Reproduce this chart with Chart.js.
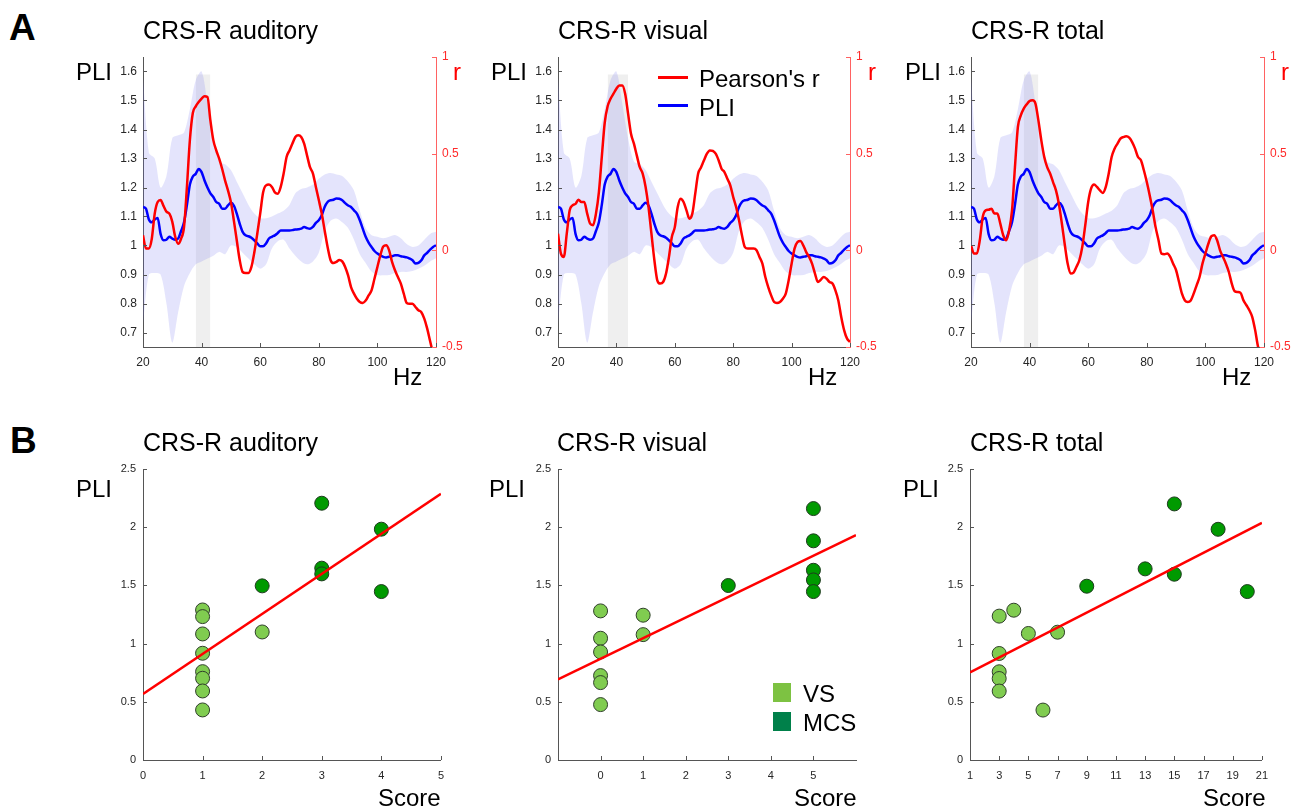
<!DOCTYPE html>
<html>
<head>
<meta charset="utf-8">
<script src="https://cdn.jsdelivr.net/npm/chart.js@4.4.1/dist/chart.umd.min.js"></script>
<style>
  body { margin: 0; background: #fff; }
  #fig { position: relative; width: 1299px; height: 810px; overflow: hidden; background: #fff;
         font-family: 'Liberation Sans', Arial, sans-serif; }
  #fig canvas { position: absolute; }
  .t { position: absolute; white-space: nowrap; color: #000; line-height: 1; }
</style>
</head>
<body>
<div id="fig"></div>
<script>
// ---- data: panel A (PLI spectrum and correlation with CRS-R) ----
const titles = ['CRS-R auditory', 'CRS-R visual', 'CRS-R total'];

const hz = [20,21,22,23,24,25,26,27,28,29,30,31,32,33,34,35,36,37,38,39,40,41,42,43,44,45,46,47,48,49,
  50,51,52,53,54,55,56,57,58,59,60,61,62,63,64,65,66,67,68,69,70,71,72,73,74,75,76,77,78,79,
  80,81,82,83,84,85,86,87,88,89,90,91,92,93,94,95,96,97,98,99,100,101,102,103,104,105,106,107,108,109,
  110,111,112,113,114,115,116,117,118,119,120];

const pliMean = [1.133,1.127,1.09,1.08,1.09,1.095,1.04,1.018,1.02,1.03,1.024,1.02,1.024,1.05,1.08,1.14,1.21,1.238,1.247,1.264,
  1.253,1.224,1.2,1.18,1.167,1.15,1.144,1.127,1.127,1.138,1.147,1.138,1.11,1.075,1.047,1.035,1.032,1.027,1.018,1.007,
  0.997,0.997,1.007,1.024,1.03,1.035,1.043,1.052,1.052,1.052,1.052,1.053,1.055,1.056,1.058,1.064,1.06,1.058,1.064,1.078,
  1.087,1.104,1.133,1.15,1.156,1.158,1.162,1.161,1.156,1.146,1.138,1.133,1.121,1.11,1.087,1.058,1.03,1.01,0.995,0.981,
  0.972,0.966,0.961,0.959,0.961,0.963,0.966,0.966,0.963,0.961,0.959,0.955,0.949,0.938,0.94,0.949,0.966,0.975,0.986,0.995,1.001];

const hzBand = [20,22,24,26,28,30,32,34,36,38,40,42,44,46,48,50,52,54,56,58,60,62,64,66,68,70,
  72,74,76,78,80,82,84,86,88,90,92,94,96,98,100,102,104,106,108,110,112,114,116,118,120];
const pliUpper = [1.58,1.32,1.30,1.20,1.24,1.37,1.38,1.39,1.47,1.57,1.60,1.49,1.37,1.29,1.28,1.26,1.22,1.18,1.14,1.11,
  1.094,1.094,1.10,1.11,1.12,1.14,1.18,1.195,1.20,1.21,1.23,1.245,1.25,1.245,1.24,1.22,1.19,1.12,1.06,1.035,
  1.03,1.025,1.03,1.036,1.025,1.005,0.995,1.0,1.02,1.04,1.047];
const pliLower = [0.73,0.90,0.905,0.90,0.80,0.665,0.77,0.86,0.905,0.935,0.945,0.955,0.965,0.978,0.97,1.0,0.995,0.975,0.955,0.935,
  0.92,0.935,0.99,1.015,1.02,0.99,0.965,0.945,0.935,0.945,0.975,1.05,1.085,1.093,1.08,1.06,1.02,0.97,0.94,0.91,
  0.898,0.897,0.898,0.905,0.909,0.909,0.912,0.92,0.93,0.945,0.956];

const rAud = [0.078,0.01,0.01,0.06,0.19,0.25,0.26,0.23,0.20,0.19,0.147,0.07,0.034,0.06,0.12,0.33,0.57,0.71,0.745,0.767,
  0.785,0.797,0.793,0.672,0.57,0.517,0.474,0.422,0.362,0.31,0.25,0.155,0.052,-0.05,-0.112,-0.117,-0.117,-0.086,-0.01,0.086,
  0.19,0.30,0.336,0.34,0.328,0.30,0.293,0.328,0.397,0.483,0.517,0.552,0.586,0.595,0.586,0.552,0.49,0.43,0.397,0.328,
  0.26,0.19,0.103,0.017,-0.05,-0.066,-0.06,-0.05,-0.057,-0.086,-0.13,-0.19,-0.224,-0.25,-0.267,-0.272,-0.26,-0.233,-0.207,-0.147,
  -0.086,-0.026,0.02,0.026,0,-0.06,-0.103,-0.138,-0.172,-0.224,-0.272,-0.276,-0.276,-0.293,-0.31,-0.32,-0.353,-0.405,-0.47,-0.535,-0.6];
const rVis = [0.086,-0.017,-0.034,0.086,0.207,0.233,0.24,0.262,0.25,0.25,0.19,0.138,0.13,0.19,0.3,0.483,0.66,0.745,0.784,0.81,
  0.836,0.853,0.853,0.81,0.707,0.603,0.552,0.49,0.43,0.397,0.328,0.224,0.086,-0.05,-0.155,-0.172,-0.164,-0.12,-0.034,0.07,
  0.12,0.224,0.267,0.25,0.207,0.164,0.19,0.293,0.397,0.43,0.466,0.5,0.517,0.514,0.5,0.466,0.422,0.405,0.37,0.336,
  0.276,0.224,0.155,0.078,0.017,0.009,0.009,0.009,0,-0.034,-0.069,-0.138,-0.19,-0.233,-0.267,-0.272,-0.267,-0.25,-0.224,-0.155,
  -0.069,0.009,0.043,0.048,0.026,-0.009,-0.034,-0.069,-0.12,-0.164,-0.152,-0.138,-0.147,-0.164,-0.172,-0.207,-0.259,-0.345,-0.414,-0.457,-0.474];
const rTot = [0.026,-0.017,-0.017,0.052,0.172,0.207,0.21,0.215,0.19,0.19,0.138,0.078,0.052,0.103,0.207,0.43,0.638,0.698,0.733,0.755,
  0.772,0.776,0.759,0.672,0.569,0.483,0.43,0.397,0.353,0.31,0.24,0.14,0.03,-0.07,-0.12,-0.115,-0.085,-0.05,0.02,0.13,
  0.25,0.32,0.34,0.328,0.31,0.297,0.328,0.397,0.483,0.526,0.552,0.578,0.586,0.59,0.583,0.56,0.526,0.483,0.466,0.414,
  0.353,0.284,0.207,0.12,0.052,-0.017,-0.02,-0.017,-0.034,-0.069,-0.103,-0.164,-0.224,-0.259,-0.267,-0.259,-0.224,-0.181,-0.138,-0.069,
  -0.017,0.034,0.072,0.078,0.052,0,-0.034,-0.069,-0.112,-0.172,-0.212,-0.216,-0.22,-0.259,-0.284,-0.31,-0.345,-0.414,-0.5,-0.53,-0.6];

// shaded frequency window (Hz) for each panel, and its top
const winAud = [38, 43];
const winVis = [37, 44];
const winTot = [38, 43];
const winTop = 1.59;

const hzTicks = [20, 40, 60, 80, 100, 120];
const pliTicks = [0.7, 0.8, 0.9, 1, 1.1, 1.2, 1.3, 1.4, 1.5, 1.6];
const rTicks = [-0.5, 0, 0.5, 1];

// ---- data: panel B (PLI vs. CRS-R score) ----
const audVsX = [1, 1, 1, 1, 1, 1, 1, 1, 2];
const audVsY = [1.289, 1.232, 1.083, 0.917, 0.759, 0.702, 0.593, 0.43, 1.10];
const audMcsX = [2, 3, 3, 3, 4, 4];
const audMcsY = [1.496, 2.206, 1.648, 1.599, 1.983, 1.447];
const audFitX = [0, 5];
const audFitY = [0.567, 2.287];

const visVsX = [0, 0, 0, 0, 0, 0, 1, 1];
const visVsY = [1.281, 1.046, 0.928, 0.725, 0.665, 0.476, 1.244, 1.077];
const visMcsX = [3, 5, 5, 5, 5, 5];
const visMcsY = [1.499, 2.16, 1.883, 1.63, 1.547, 1.447];
const visFitX = [-1, 6];
const visFitY = [0.693, 1.931];

const totVsX = [3, 3, 3, 3, 3, 4, 5, 6, 7];
const totVsY = [1.236, 0.915, 0.758, 0.70, 0.592, 1.287, 1.087, 0.429, 1.098];
const totMcsX = [9, 13, 15, 15, 18, 20];
const totMcsY = [1.493, 1.642, 2.2, 1.596, 1.982, 1.447];
const totFitX = [1, 21];
const totFitY = [0.752, 2.037];

const pliTicksB = [0, 0.5, 1, 1.5, 2, 2.5];
const audTicks = [0, 1, 2, 3, 4, 5];
const visTicks = [0, 1, 2, 3, 4, 5];
const totTicks = [1, 3, 5, 7, 9, 11, 13, 15, 17, 19, 21];

// ---- layout ----
const fig = document.getElementById('fig');
Chart.defaults.font.family = "'Liberation Sans', Arial, sans-serif";

const VS_COL = '#80cc50', MCS_COL = '#009a00';
const AXIS_COL = '#555555', TICK_COL = '#262626';

const pts = (xs, ys) => xs.map((x, i) => ({ x: x, y: ys[i] }));
const fmt = v => String(+(+v).toFixed(2));
const setTicks = arr => s => { s.ticks = arr.map(v => ({ value: v })); };

// little tick marks drawn at the axis lines, like the original figure
const tickMarks = {
  id: 'tickMarks',
  afterDatasetsDraw(chart, args, opts) {
    const ctx = chart.ctx, a = chart.chartArea;
    const len = opts.len || 4, d = opts.dir === 'out' ? -1 : 1;
    Object.values(chart.scales).forEach(s => {
      ctx.save();
      ctx.strokeStyle = s.options.border.color;
      ctx.lineWidth = 1;
      ctx.beginPath();
      s.ticks.forEach(t => {
        const p = Math.round(s.getPixelForValue(t.value)) + 0.5;
        if (s.isHorizontal()) { ctx.moveTo(p, a.bottom); ctx.lineTo(p, a.bottom - d * len); }
        else if (s.position === 'left') { ctx.moveTo(a.left, p); ctx.lineTo(a.left + d * len, p); }
        else { ctx.moveTo(a.right, p); ctx.lineTo(a.right - d * len, p); }
      });
      ctx.stroke();
      ctx.restore();
    });
  }
};

function makeCanvas(area, pad) {
  const cv = document.createElement('canvas');
  cv.width = area.w + pad.l + pad.r;
  cv.height = area.h + pad.t + pad.b;
  cv.style.left = (area.x - pad.l) + 'px';
  cv.style.top = (area.y - pad.t) + 'px';
  fig.appendChild(cv);
  return cv;
}

function txt(s, x, base, size, opts) {
  opts = opts || {};
  const d = document.createElement('div');
  d.className = 't';
  d.textContent = s;
  d.style.left = x + 'px';
  d.style.top = (base - 0.8465 * size) + 'px';
  d.style.fontSize = size + 'px';
  if (opts.color) d.style.color = opts.color;
  if (opts.bold) d.style.fontWeight = 'bold';
  fig.appendChild(d);
}

function box(x, y, w, h, col) {
  const d = document.createElement('div');
  d.style.cssText = 'position:absolute;left:' + x + 'px;top:' + y + 'px;width:' + w + 'px;height:' + h + 'px;background:' + col;
  fig.appendChild(d);
}

function topChart(area, rVals, win) {
  const pad = { l: 60, r: 45, t: 14, b: 32 };
  const cv = makeCanvas(area, pad);
  new Chart(cv, {
    type: 'line',
    data: {
      datasets: [
        { label: "Pearson's r", data: pts(hz, rVals), yAxisID: 'yR', borderColor: '#ff0000', borderWidth: 2.5,
          pointRadius: 0, cubicInterpolationMode: 'monotone', order: 0 },
        { label: 'PLI', data: pts(hz, pliMean), yAxisID: 'y', borderColor: '#0000ff', borderWidth: 2.5,
          pointRadius: 0, cubicInterpolationMode: 'monotone', order: 1 },
        { label: 'upper', data: pts(hzBand, pliUpper), yAxisID: 'y', borderColor: 'transparent', borderWidth: 0,
          pointRadius: 0, tension: 0.3, fill: '+1', backgroundColor: 'rgba(110,110,240,0.19)', order: 2 },
        { label: 'lower', data: pts(hzBand, pliLower), yAxisID: 'y', borderColor: 'transparent', borderWidth: 0,
          pointRadius: 0, tension: 0.3, fill: false, order: 3 },
        { label: 'window', data: pts(win, [winTop, winTop]), yAxisID: 'y', borderColor: 'transparent', borderWidth: 0,
          pointRadius: 0, fill: 'start', backgroundColor: '#efefef', order: 4 }
      ]
    },
    options: {
      responsive: false, animation: false, devicePixelRatio: 1,
      layout: { padding: { top: pad.t, left: 0, right: 0, bottom: 0 }, autoPadding: false },
      plugins: { legend: { display: false }, tooltip: { enabled: false }, tickMarks: { len: 4, dir: 'in' } },
      scales: {
        x: {
          type: 'linear', min: 20, max: 120, afterBuildTicks: setTicks(hzTicks),
          afterFit: s => { s.height = pad.b; },
          grid: { display: true, drawOnChartArea: false, drawTicks: false },
          border: { color: AXIS_COL, width: 1 },
          ticks: { font: { size: 12 }, color: TICK_COL, padding: 8, maxRotation: 0, autoSkip: false }
        },
        y: {
          position: 'left', min: 0.65, max: 1.65, afterBuildTicks: setTicks(pliTicks),
          afterFit: s => { s.width = pad.l; },
          grid: { display: true, drawOnChartArea: false, drawTicks: false },
          border: { color: AXIS_COL, width: 1 },
          ticks: { font: { size: 12 }, color: TICK_COL, padding: 6, callback: fmt, autoSkip: false }
        },
        yR: {
          position: 'right', min: -0.5, max: 1, afterBuildTicks: setTicks(rTicks),
          afterFit: s => { s.width = pad.r; },
          grid: { display: true, drawOnChartArea: false, drawTicks: false },
          border: { color: '#ff6262', width: 1 },
          ticks: { font: { size: 12 }, color: '#ff2a2a', padding: 6, callback: fmt, autoSkip: false }
        }
      }
    },
    plugins: [tickMarks]
  });
}

function botChart(area, xMin, xMax, xTicks, vsX, vsY, mcsX, mcsY, fitX, fitY) {
  const pad = { l: 60, r: 12, t: 14, b: 32 };
  const cv = makeCanvas(area, pad);
  new Chart(cv, {
    type: 'scatter',
    data: {
      datasets: [
        { label: 'fit', data: pts(fitX, fitY), showLine: true, borderColor: '#ff0000', borderWidth: 2.5,
          pointRadius: 0, order: 0 },
        { label: 'MCS', data: pts(mcsX, mcsY), backgroundColor: MCS_COL, borderColor: '#1f3a1f', borderWidth: 1,
          pointRadius: 7, order: 1 },
        { label: 'VS', data: pts(vsX, vsY), backgroundColor: VS_COL, borderColor: '#2f3f2a', borderWidth: 1,
          pointRadius: 7, order: 2 }
      ]
    },
    options: {
      responsive: false, animation: false, devicePixelRatio: 1,
      layout: { padding: { top: pad.t, left: 0, right: pad.r, bottom: 0 }, autoPadding: false },
      plugins: { legend: { display: false }, tooltip: { enabled: false }, tickMarks: { len: 4, dir: 'in' } },
      scales: {
        x: {
          type: 'linear', min: xMin, max: xMax, afterBuildTicks: setTicks(xTicks),
          afterFit: s => { s.height = pad.b; },
          grid: { display: true, drawOnChartArea: false, drawTicks: false },
          border: { color: AXIS_COL, width: 1 },
          ticks: { font: { size: 11 }, color: TICK_COL, padding: 9, maxRotation: 0, autoSkip: false }
        },
        y: {
          position: 'left', min: 0, max: 2.5, afterBuildTicks: setTicks(pliTicksB),
          afterFit: s => { s.width = pad.l; },
          grid: { display: true, drawOnChartArea: false, drawTicks: false },
          border: { color: AXIS_COL, width: 1 },
          ticks: { font: { size: 11 }, color: TICK_COL, padding: 7, callback: fmt, autoSkip: false }
        }
      }
    },
    plugins: [tickMarks]
  });
}

const topAreas = [{ x: 143, y: 57, w: 293, h: 290 }, { x: 558, y: 57, w: 292, h: 290 }, { x: 971, y: 57, w: 293, h: 290 }];
const botAreas = [{ x: 143, y: 469, w: 298, h: 291 }, { x: 558, y: 469, w: 298, h: 291 }, { x: 970, y: 469, w: 295, h: 291 }];

topChart(topAreas[0], rAud, winAud);
topChart(topAreas[1], rVis, winVis);
topChart(topAreas[2], rTot, winTot);

botChart(botAreas[0], 0, 5, audTicks, audVsX, audVsY, audMcsX, audMcsY, audFitX, audFitY);
botChart(botAreas[1], -1, 6, visTicks, visVsX, visVsY, visMcsX, visMcsY, visFitX, visFitY);
botChart(botAreas[2], 1, 21, totTicks, totVsX, totVsY, totMcsX, totMcsY, totFitX, totFitY);

// ---- texts ----
txt('A', 9, 40, 37, { bold: true });
txt('B', 10, 453, 37, { bold: true });

const topTitleX = [143, 558, 971], botTitleX = [143, 557, 970];
titles.forEach((t, i) => { txt(t, topTitleX[i], 39, 25); txt(t, botTitleX[i], 451, 25); });

[76, 491, 905].forEach(x => txt('PLI', x, 80, 24));
[76, 489, 903].forEach(x => txt('PLI', x, 497, 24));
[453, 868, 1281].forEach(x => txt('r', x, 80, 24, { color: '#ff0000' }));
[393, 808, 1222].forEach(x => txt('Hz', x, 385, 24));
[378, 794, 1203].forEach(x => txt('Score', x, 806, 24));

// legend of panel A
box(658, 76, 30, 2.5, '#ff0000');
txt("Pearson's r", 699, 87, 24);
box(658, 104, 30, 2.5, '#0000ff');
txt('PLI', 699, 116, 24);

// legend of panel B
box(773, 683, 18, 19, '#7dc242');
txt('VS', 803, 702, 24);
box(773, 712, 18, 19, '#00804a');
txt('MCS', 803, 731, 24);
</script>
</body>
</html>
